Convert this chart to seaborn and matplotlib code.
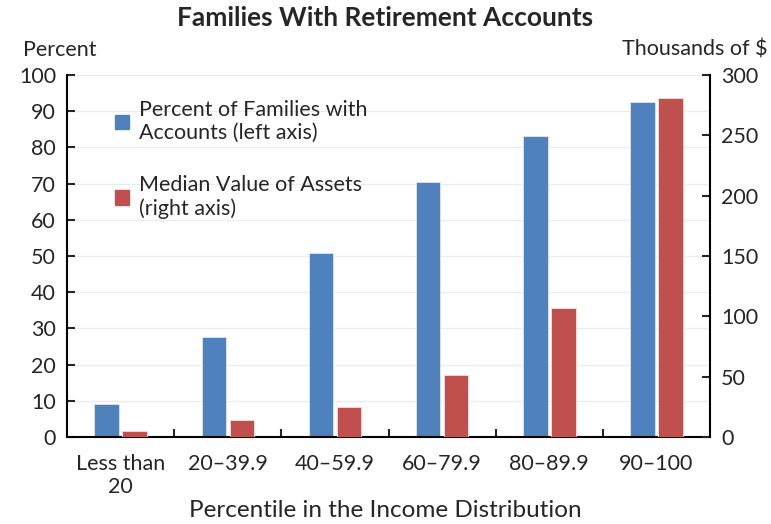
import pandas as pd
import matplotlib.pyplot as plt
import seaborn as sns
from matplotlib.patches import Patch

categories = ["Less than\n20", "20–39.9", "40–59.9", "60–79.9", "80–89.9", "90–100"]
pct_families = [9, 27.6, 50.8, 70.4, 83.2, 92.6]
median_assets = [5, 14, 25, 51, 107, 281]
series_names = ["Percent of Families with\nAccounts (left axis)",
                "Median Value of Assets\n(right axis)"]

BLUE = "#4F81BD"
RED = "#C0504D"

sns.set_style("white")
plt.rcParams["font.family"] = ["Lato", "DejaVu Sans"]

# long-form table; each axis draws only its own series, hue_order keeps dodge slots
df = pd.DataFrame({
    "cat": categories * 2,
    "series": [series_names[0]] * 6 + [series_names[1]] * 6,
    "left": pct_families + [float("nan")] * 6,
    "right": [float("nan")] * 6 + median_assets,
})

fig = plt.figure(figsize=(7.71, 5.24), dpi=100)
ax = fig.add_axes([0.087, 0.166, 0.834, 0.691])
ax2 = ax.twinx()

palette = {series_names[0]: BLUE, series_names[1]: RED}
sns.barplot(data=df, x="cat", y="left", hue="series", hue_order=series_names,
            palette=palette, ax=ax, width=0.52, gap=0.12, saturation=1,
            edgecolor="#dde6f0", linewidth=0.6, legend=False)
sns.barplot(data=df, x="cat", y="right", hue="series", hue_order=series_names,
            palette=palette, ax=ax2, width=0.52, gap=0.12, saturation=1,
            edgecolor="#f0dede", linewidth=0.6, legend=False)

ax.set_ylim(0, 100)
ax2.set_ylim(0, 300)
ax.set_xlim(-0.5, 5.5)
ax.set_yticks(range(0, 101, 10))
ax2.set_yticks(range(0, 301, 50))
ax.yaxis.grid(True, color="#ececec", linewidth=1)
ax.set_axisbelow(True)

for a in (ax, ax2):
    a.set_ylabel("")
    a.set_xlabel("")
    for s in a.spines.values():
        s.set_visible(False)
ax.spines["left"].set_visible(True)
ax.spines["bottom"].set_visible(True)
ax2.spines["right"].set_visible(True)
for s in (ax.spines["left"], ax.spines["bottom"], ax2.spines["right"]):
    s.set_color("black")
    s.set_linewidth(1.5)

ax.tick_params(axis="y", direction="in", length=6, width=1.5, labelsize=15.5, pad=8, left=True)
ax2.tick_params(axis="y", direction="in", length=6, width=1.5, labelsize=15.5, pad=8, right=True)

# category labels centred, tick marks at group boundaries
ax.set_xticks(range(len(categories)))
ax.set_xticklabels(categories, fontsize=15.5)
ax.tick_params(axis="x", length=0, pad=12)
ax.set_xticks([i + 0.5 for i in range(len(categories) - 1)], minor=True)
ax.tick_params(axis="x", which="minor", direction="in", length=6, width=1.5, bottom=True)

fig.text(0.5, 0.026, "Percentile in the Income Distribution", ha="center", va="center",
         fontsize=17.5)

handles = [Patch(color=BLUE, label=series_names[0]),
           Patch(color=RED, label=series_names[1])]
ax2.legend(handles=handles, loc="upper left", bbox_to_anchor=(0.045, 0.985),
           frameon=False, fontsize=15.5, handlelength=0.65, handleheight=0.65,
           handletextpad=0.45, labelspacing=1.5)

fig.text(0.5, 0.965, "Families With Retirement Accounts", ha="center", va="center",
         fontsize=19, fontweight="bold")
fig.text(0.03, 0.905, "Percent", ha="left", va="center", fontsize=15.5)
fig.text(0.995, 0.905, "Thousands of $", ha="right", va="center", fontsize=15.5)

fig.savefig("out.png", dpi=100)
